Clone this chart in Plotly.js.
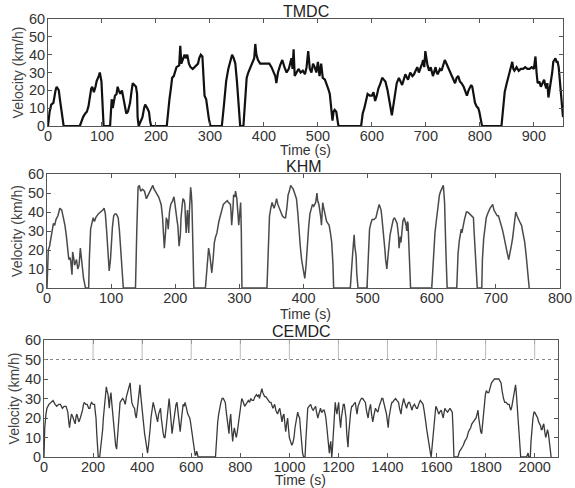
<!DOCTYPE html>
<html>
<head>
<meta charset="utf-8">
<script src="https://cdn.plot.ly/plotly-3.0.1.min.js"></script>
<style>html,body{margin:0;padding:0;background:#fff;}#chart{width:575px;height:488px;}</style>
</head>
<body>
<div id="chart"></div>
<script>
// ---------- Data ----------
const panelTitles = ["TMDC", "KHM", "CEMDC"];
const xAxisTitle = "Time (s)";
const yAxisTitle = "Velocity (km/h)";

const tmdcTime = [0,3,6,10,14,16,18,20,22,24,26,27,29,59,62,65,69,72,75,78,80,82,85,88,90,94,96,99,101,103,115,117,118,120,124,127,129,131,134,137,140,143,145,148,152,155,157,160,163,165,166,168,171,175,178,180,184,187,189,191,220,223,225,228,230,233,236,238,243,245,247,250,253,255,258,261,264,268,272,275,278,280,283,286,288,290,293,296,298,301,322,326,330,334,338,341,344,347,350,352,354,356,362,365,368,371,375,379,382,384,386,389,393,398,404,410,414,418,421,423,426,430,434,438,442,446,449,451,453,455,457,460,464,468,472,476,479,482,485,488,491,494,497,500,503,506,509,513,516,519,522,524,525,527,529,531,534,536,538,580,583,586,589,592,596,600,603,606,609,612,616,619,622,625,629,633,637,640,642,646,650,653,656,659,662,665,667,671,675,678,681,684,687,690,693,695,697,699,701,703,706,709,713,716,718,720,722,726,729,732,735,738,741,745,748,751,754,757,760,763,766,770,773,776,779,781,784,786,788,791,794,797,799,801,804,840,843,846,849,852,855,857,860,862,864,868,872,876,880,884,888,892,896,900,903,905,907,910,913,916,919,921,923,925,927,929,932,934,936,938,940,942,944,946,948,950,952,954];
const tmdcSpeed = [0,8,12,13,20,22,21,20,15,10,8,3,0,0,3,5,7,8,11,18,21,22,19,22,25,28,30,25,12,0,0,10,15,10,17,18,22,20,18,20,15,10,7,8,13,20,24,23,22,18,5,0,2,5,10,12,10,8,3,0,0,10,15,22,27,28,32,33,34,45,35,37,40,38,40,35,33,32,33,34,35,38,40,39,25,17,15,8,4,0,0,12,25,32,37,40,38,35,25,18,8,0,0,15,27,30,33,36,38,46,40,37,35,35,35,35,33,30,28,24,30,34,37,33,30,32,35,38,32,43,28,30,32,30,31,29,33,42,32,30,35,33,30,36,28,35,27,26,24,21,18,12,9,3,8,9,8,5,0,0,7,10,15,18,17,17,19,14,17,21,24,27,26,25,20,13,6,12,17,24,27,25,23,26,29,27,26,30,28,29,31,33,30,32,35,37,33,42,36,34,31,33,28,31,33,30,29,32,31,34,37,35,33,31,29,26,24,27,28,25,24,22,19,17,20,21,23,22,18,13,11,10,8,4,0,0,10,19,23,27,30,33,36,32,31,33,31,32,32,33,32,32,33,32,39,30,24,25,22,24,26,23,21,24,16,20,25,30,36,37,38,36,36,33,26,18,9,5];

const khmTime = [0,1,2,4,6,8,10,12,14,17,20,23,26,28,30,32,34,36,37,39,40,42,43,45,46,48,50,52,54,56,57,60,65,66,68,70,72,74,76,80,84,87,89,91,93,95,97,99,100,102,104,106,108,110,111,113,115,117,119,138,140,142,144,146,149,152,155,158,161,163,165,167,169,171,174,176,178,180,181,183,185,186,188,189,191,193,196,198,200,201,203,204,206,208,209,211,212,214,215,216,217,219,220,221,222,224,225,226,227,229,247,248,249,251,252,254,255,257,259,261,263,265,268,270,273,275,278,281,283,286,287,288,290,291,293,294,296,297,298,299,300,302,303,304,343,345,347,349,351,353,354,356,358,360,362,364,367,370,372,374,376,378,380,382,384,386,389,391,393,395,397,399,400,402,404,406,408,410,412,414,416,419,421,422,424,426,427,428,430,431,433,435,436,438,440,442,444,446,447,473,474,476,478,479,480,482,483,485,499,501,503,505,507,510,513,515,516,518,519,521,522,524,525,527,528,530,531,533,535,538,540,542,544,546,548,549,550,551,552,554,555,557,558,560,561,562,563,565,567,600,603,605,607,609,611,612,614,616,618,619,620,622,624,639,641,643,645,646,647,649,651,654,656,659,662,665,666,668,669,671,678,679,681,683,685,687,689,691,693,695,697,700,702,704,706,708,710,712,714,716,718,720,722,724,726,728,730,731,733,735,737,740,742,744,745,747,748,750,752];
const khmSpeed = [0,18,20,22,26,30,34,33,36,38,42,41,37,33,28,22,15,16,14,7,19,15,12,14,15,10,12,21,15,10,5,0,0,15,31,34,37,35,37,39,40,41,42,39,30,21,9,15,24,32,38,39,39,38,37,30,22,10,0,0,30,53,54,51,52,51,47,49,51,52,54,52,51,50,48,46,44,38,33,21,30,37,35,31,40,44,46,48,43,39,35,33,22,28,37,44,47,46,44,36,29,41,35,29,40,53,50,44,30,0,0,5,10,18,21,17,14,8,15,24,27,29,35,38,42,44,45,46,45,44,40,33,42,49,48,51,47,44,38,33,36,45,30,0,0,25,38,42,45,43,42,44,47,44,42,40,38,37,37,42,49,51,54,53,52,50,47,40,29,22,15,10,8,5,12,24,32,39,42,44,43,45,50,46,44,40,37,33,45,43,39,36,35,34,33,29,24,12,0,0,8,15,24,28,22,17,8,0,0,20,31,34,36,36,37,40,42,44,43,41,38,32,28,20,15,10,14,22,28,33,36,37,35,34,28,21,24,27,24,30,35,37,36,33,30,35,34,20,0,0,20,29,35,42,47,49,51,53,54,50,45,20,0,0,18,25,29,31,29,33,36,40,40,39,38,37,30,19,10,0,0,15,26,32,37,39,41,42,43,44,41,39,38,38,36,33,31,28,24,21,18,15,18,22,26,33,36,40,38,36,35,33,30,26,24,18,14,7,0];

const cemdcTime = [0,3,8,12,20,30,37,45,52,60,67,75,82,90,97,101,104,108,112,116,119,123,127,131,134,138,142,148,153,157,161,164,170,176,182,187,190,194,200,206,210,212,215,218,221,227,230,233,236,239,242,246,250,254,257,261,264,266,269,273,276,281,284,288,292,296,299,301,305,310,315,321,326,331,336,340,345,351,354,358,363,369,372,376,380,384,388,391,394,399,402,406,410,415,418,422,426,430,433,436,440,445,449,455,459,463,467,471,475,478,482,486,490,493,497,501,505,510,513,516,519,522,526,530,534,538,542,546,549,552,555,559,563,567,571,575,579,582,586,590,594,597,601,604,608,612,616,619,622,625,628,699,702,704,708,712,716,721,726,731,735,739,742,746,750,754,757,761,765,769,772,776,780,784,788,791,795,799,802,806,810,814,818,823,828,833,838,843,848,854,860,866,871,875,878,883,888,892,896,899,904,910,915,920,925,929,933,937,940,945,949,952,957,961,965,968,970,974,978,981,985,989,993,997,1000,1005,1010,1014,1019,1023,1027,1031,1034,1038,1042,1045,1048,1051,1054,1058,1064,1067,1070,1075,1080,1087,1092,1097,1102,1107,1111,1116,1120,1124,1127,1131,1134,1138,1142,1146,1149,1153,1157,1160,1163,1166,1169,1171,1173,1176,1179,1183,1187,1190,1194,1197,1201,1205,1209,1212,1216,1220,1224,1228,1231,1234,1236,1239,1242,1246,1250,1254,1257,1262,1266,1269,1272,1276,1280,1284,1289,1294,1299,1304,1310,1314,1318,1321,1325,1328,1331,1335,1340,1344,1348,1351,1355,1358,1361,1366,1370,1373,1377,1381,1385,1388,1392,1396,1400,1403,1406,1410,1414,1418,1421,1426,1430,1433,1438,1442,1445,1449,1452,1455,1459,1463,1466,1470,1474,1478,1482,1486,1490,1494,1497,1500,1504,1507,1510,1514,1518,1522,1526,1530,1534,1538,1542,1545,1549,1552,1556,1560,1564,1568,1572,1575,1578,1581,1585,1589,1593,1597,1601,1605,1609,1613,1619,1623,1627,1631,1634,1638,1642,1645,1650,1655,1659,1664,1667,1669,1671,1687,1690,1694,1700,1705,1709,1715,1720,1724,1730,1735,1739,1744,1749,1755,1761,1765,1769,1772,1776,1780,1784,1787,1791,1795,1799,1803,1808,1813,1818,1824,1830,1836,1842,1848,1854,1858,1863,1867,1870,1873,1878,1884,1890,1896,1900,1903,1907,1910,1913,1917,1920,1922,1925,1928,1930,1933,1935,1937,1940,1943,1967,1970,1973,1976,1982,1985,1989,1993,1997,2000,2004,2008,2012,2016,2020,2024,2027,2030,2034,2037,2041,2045,2049,2052,2056,2060,2064,2067];
const cemdcSpeed = [0,15,22,25,27,28,29,27,26,27,27,25,26,26,23,18,15,19,22,21,20,18,17,21,22,20,18,20,22,24,27,28,27,27,25,25,27,28,27,27,22,20,12,5,0,0,3,8,11,14,20,25,32,36,34,32,28,25,30,33,28,20,14,10,6,4,9,15,22,28,29,30,29,27,31,33,35,38,33,28,26,25,22,20,24,28,33,37,32,25,20,15,12,8,5,2,6,10,15,20,25,28,26,22,20,18,22,24,25,20,15,12,10,10,14,18,24,30,26,22,15,12,16,20,24,27,28,24,22,17,13,18,25,27,26,28,26,24,22,21,20,18,14,10,6,3,1,1,3,2,0,0,8,14,18,22,25,28,30,30,29,28,24,20,15,12,18,22,14,8,12,15,12,10,13,16,20,25,28,30,29,27,26,27,28,29,28,30,29,29,31,32,31,32,30,33,35,33,32,31,31,30,29,28,28,26,25,26,27,24,22,22,24,25,22,18,18,21,22,18,13,17,20,14,10,8,6,7,10,15,18,22,23,21,20,15,10,5,2,0,0,8,18,25,26,27,25,24,25,26,23,20,22,25,25,23,23,24,24,22,20,15,10,4,2,6,8,3,0,5,10,20,28,25,22,25,28,20,15,20,25,27,27,23,20,12,5,5,12,20,23,26,26,27,28,28,25,22,26,28,29,30,30,29,28,24,21,20,24,27,27,22,18,21,24,25,24,23,23,26,28,28,30,30,28,26,24,22,18,15,20,24,26,28,28,29,30,30,29,28,28,25,22,22,26,29,30,28,26,25,27,28,28,26,25,24,26,27,27,26,25,25,27,28,29,28,27,27,24,22,18,14,10,7,4,2,0,4,10,18,24,26,25,23,22,23,24,22,20,23,25,24,23,23,24,25,24,23,15,5,0,0,2,3,4,5,6,8,9,10,13,14,15,17,18,19,20,22,24,20,15,13,12,16,22,28,32,34,33,33,35,38,39,40,40,40,40,39,38,34,31,30,28,28,27,27,25,24,26,28,30,33,35,37,33,28,25,18,13,12,5,0,0,2,2,0,0,8,15,20,23,23,22,21,20,18,17,16,14,14,16,17,13,10,12,14,12,8,5,0];

const xMax = [954, 800, 2095];
const yTicks = [0, 10, 20, 30, 40, 50, 60];
const xTicks1 = [0,100,200,300,400,500,600,700,800,900];
const xTicks2 = [0,100,200,300,400,500,600,700,800];
const xTicks3 = [0,200,400,600,800,1000,1200,1400,1600,1800,2000];
const cemdcGuideLevel = 50;

// ---------- Layout ----------
const W = 575, H = 488;
const FONT = 'Liberation Sans, Arial, Helvetica, sans-serif';
const panels = [ // pixel boxes of each plot area, and y centres of its texts
  {l: 48, r: 563, t: 19, b: 126, titleY: 11, xTitleY: 150, xTitleX: 305},
  {l: 47, r: 560, t: 174, b: 288, titleY: 167, xTitleY: 314, xTitleX: 305},
  {l: 44, r: 558, t: 340, b: 457, titleY: 331, xTitleY: 480, xTitleX: 300}
];
const lineColors = ['#111111', '#4a4a4a', '#3a3a3a'];
const lineWidths = [2.2, 1.5, 1.3];
const xs = [tmdcTime, khmTime, cemdcTime];
const ys = [tmdcSpeed, khmSpeed, cemdcSpeed];
const xTickSets = [xTicks1, xTicks2, xTicks3];

const traces = [];
const layout = {
  width: W, height: H,
  margin: {l: 0, r: 0, t: 0, b: 0},
  paper_bgcolor: '#fff', plot_bgcolor: '#fff',
  showlegend: false,
  font: {family: FONT, color: '#333', size: 14},
  annotations: [], shapes: []
};

panels.forEach((p, i) => {
  const n = i === 0 ? '' : String(i + 1);
  traces.push({
    type: 'scatter', mode: 'lines',
    x: xs[i], y: ys[i],
    xaxis: 'x' + n, yaxis: 'y' + n,
    line: {color: lineColors[i], width: lineWidths[i]},
    hoverinfo: 'skip'
  });
  const axCommon = {
    showline: true, mirror: 'ticks', ticks: 'inside', ticklen: 4, tickwidth: 1,
    tickcolor: '#555', linecolor: '#555', linewidth: 1,
    showgrid: false, zeroline: false,
    tickfont: {family: FONT, size: 14.5, color: '#333'},
    automargin: false
  };
  layout['xaxis' + n] = Object.assign({}, axCommon, {
    domain: [p.l / W, p.r / W],
    anchor: 'y' + n,
    range: [0, xMax[i]],
    tickvals: xTickSets[i],
    ticktext: xTickSets[i].map(String),
    ticklabelstandoff: -3
  });
  layout['yaxis' + n] = Object.assign({}, axCommon, {
    domain: [1 - p.b / H, 1 - p.t / H],
    anchor: 'x' + n,
    range: [0, 60],
    tickvals: yTicks,
    ticktext: yTicks.map(String),
    ticklabelstandoff: -1,
    title: {text: yAxisTitle, font: {family: FONT, size: 14, color: '#444'}, standoff: 2}
  });
  // panel title
  layout.annotations.push({
    text: panelTitles[i], showarrow: false,
    xref: 'paper', yref: 'paper',
    x: ((p.l + p.r) / 2) / W, y: 1 - p.titleY / H,
    xanchor: 'center', yanchor: 'middle',
    font: {family: FONT, size: 16, color: '#222'}
  });
  // x axis title
  layout.annotations.push({
    text: xAxisTitle, showarrow: false,
    xref: 'paper', yref: 'paper',
    x: p.xTitleX / W, y: 1 - p.xTitleY / H,
    xanchor: 'center', yanchor: 'middle',
    font: {family: FONT, size: 14, color: '#333'}
  });
});

// CEMDC guide lines (dotted level line and vertical marks above it)
layout.shapes.push({
  type: 'line', xref: 'x3', yref: 'y3',
  x0: 0, x1: xMax[2], y0: cemdcGuideLevel, y1: cemdcGuideLevel,
  line: {color: '#888', width: 1, dash: 'dot'}
});
xTicks3.slice(1).forEach(v => {
  layout.shapes.push({
    type: 'line', xref: 'x3', yref: 'y3',
    x0: v, x1: v, y0: cemdcGuideLevel, y1: 60,
    line: {color: '#bbb', width: 1}
  });
});

Plotly.newPlot('chart', traces, layout, {staticPlot: true, displayModeBar: false});
</script>
</body>
</html>
